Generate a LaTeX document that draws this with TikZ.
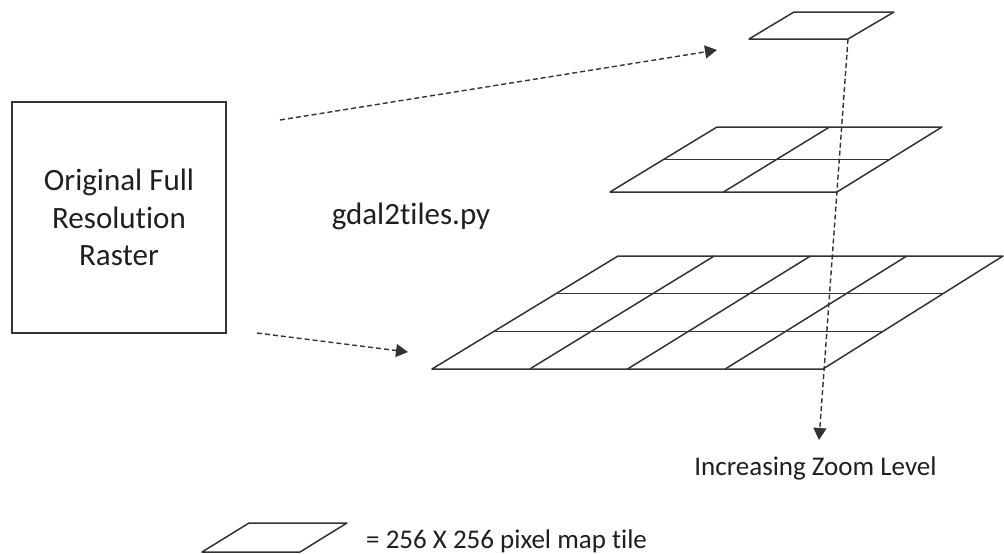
\documentclass[tikz,border=0pt]{standalone}
\usepackage{fontspec}
\setmainfont{Carlito}[Ligatures=NoCommon]
\usetikzlibrary{arrows.meta,calc}
\begin{document}
\begin{tikzpicture}[x=1pt,y=-1pt,
  edge/.style={line width=1.5pt, draw=black!80, line join=round},
  dasharrow/.style={line width=1.4pt, draw=black!80, dash pattern=on 5pt off 3pt,
    -{Triangle[length=12pt,width=13pt]}},
  lbl/.style={font=\fontsize{27}{33}\selectfont, text=black!88, inner sep=0pt},
  boxlbl/.style={font=\fontsize{31}{37.5}\selectfont, text=black!88, align=center,
    draw=black!80, line width=1.5pt, minimum width=214pt, minimum height=231pt}]
\useasboundingbox (0,0) rectangle (1004,554);

% source raster
\node[boxlbl] (raster) at (119,217.5) {Original Full\\Resolution\\Raster};
\node[lbl, anchor=base, font=\fontsize{31}{37}\selectfont] (tool) at (411,224) {gdal2tiles.py};

% zoom level 0
\coordinate (a1) at (749,39);
\coordinate (a2) at (848,39);
\coordinate (a3) at (894,12);
\coordinate (a4) at (794,12);
\draw[edge] (a1) -- (a2) -- (a3) -- (a4) -- cycle;

% zoom level 1
\coordinate (b1) at (610,192);
\coordinate (b2) at (837,192);
\coordinate (b3) at (942,127);
\coordinate (b4) at (717,127);
\draw[edge] (b1) -- (b2) -- (b3) -- (b4) -- cycle;
\draw[edge] ($(b1)!0.5!(b4)$) -- ($(b2)!0.5!(b3)$);
\draw[edge] ($(b1)!0.5!(b2)$) -- ($(b4)!0.5!(b3)$);

% zoom level 2
\coordinate (c1) at (432,369);
\coordinate (c2) at (823,369);
\coordinate (c3) at (1003,256);
\coordinate (c4) at (618,256);
\draw[edge] (c1) -- (c2) -- (c3) -- (c4) -- cycle;
\foreach \k in {0.25,0.5,0.75}
  \draw[edge] ($(c1)!\k!(c2)$) -- ($(c4)!\k!(c3)$);
\foreach \k in {0.3333,0.6667}
  \draw[edge] ($(c1)!\k!(c4)$) -- ($(c2)!\k!(c3)$);

% arrows
\coordinate (s1) at (280,120);
\coordinate (e1) at (717,50);
\coordinate (s2) at (257,333);
\coordinate (e2) at (408,352);
\coordinate (zend) at (819,440);
\draw[dasharrow] (s1) -- (e1);
\draw[dasharrow] (s2) -- (e2);
\draw[dasharrow] (a2) -- (zend);

\node[lbl, anchor=base] (zoom) at (815.5,475) {Increasing Zoom Level};

% legend
\coordinate (l1) at (202,552);
\coordinate (l2) at (300,552);
\coordinate (l3) at (347,523);
\coordinate (l4) at (249,523);
\draw[edge] (l1) -- (l2) -- (l3) -- (l4) -- cycle;
\node[lbl, anchor=base west] (legend) at (366,548) {= 256 X 256 pixel map tile};
\end{tikzpicture}
\end{document}
